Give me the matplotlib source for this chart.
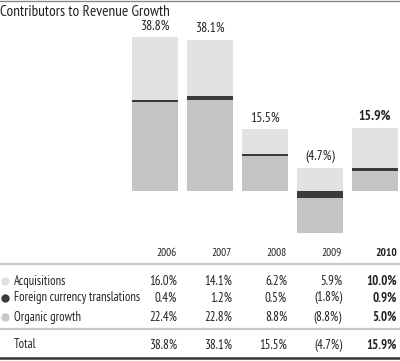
import matplotlib
matplotlib.use("Agg")
import matplotlib.pyplot as plt
from matplotlib.transforms import blended_transform_factory
import numpy as np

# data
years = ["2006", "2007", "2008", "2009", "2010"]
acquisitions = [16.0, 14.1, 6.2, 5.9, 10.0]
fx = [0.4, 1.2, 0.5, -1.8, 0.9]
organic = [22.4, 22.8, 8.8, -8.8, 5.0]
totals = [38.8, 38.1, 15.5, -4.7, 15.9]

row_names = ["Acquisitions", "Foreign currency translations", "Organic growth"]

C_ACQ = "#e2e2e2"
C_FX = "#3a3a3a"
C_ORG = "#c4c4c4"

plt.rcParams["font.family"] = ["PT Sans Narrow", "Roboto Condensed", "DejaVu Sans"]
TITLE_SIZE = 11
TEXT_SIZE = 9
TXT_COL = "#222222"


def fmt(v):
    return f"({abs(v):.1f}%)" if v < 0 else f"{v:.1f}%"


W, H = 400, 361
fig = plt.figure(figsize=(W / 100, H / 100), dpi=100)

# bar axes: pixel rows 20..240 from top
ax = fig.add_axes([0, (H - 240) / H, 1, 220 / H])
ax.set_xlim(-155 / 55, (W - 155) / 55)
ax.set_ylim(-49 / 3.97, 171 / 3.97)
ax.axis("off")

x = np.arange(len(years))
series = {"org": (organic, C_ORG), "fx": (fx, C_FX), "acq": (acquisitions, C_ACQ)}
pos_order = ["org", "fx", "acq"]
neg_order = ["fx", "org", "acq"]  # negatives: fx sits next to zero
pos_base = np.zeros(len(years))
neg_base = np.zeros(len(years))
bottoms = {k: np.zeros(len(years)) for k in series}
for k in pos_order:
    vals = np.array(series[k][0])
    m = vals >= 0
    bottoms[k][m] = pos_base[m]
    pos_base[m] += vals[m]
for k in neg_order:
    vals = np.array(series[k][0])
    m = vals < 0
    bottoms[k][m] = neg_base[m]
    neg_base[m] += vals[m]
for k in pos_order:
    vals, c = series[k]
    ax.bar(x, vals, bottom=bottoms[k], width=46 / 55, color=c, linewidth=0)

for i, t in enumerate(totals):
    ax.annotate(fmt(t), (x[i], pos_base[i]), xytext=(0, 8), textcoords="offset points",
                ha="center", va="center", fontsize=TEXT_SIZE + 0.8,
                fontweight="bold" if i == len(years) - 1 else "normal", color=TXT_COL)

# overlay for title / table in pixel coords
ov = fig.add_axes([0, 0, 1, 1])
ov.set_xlim(0, W)
ov.set_ylim(H, 0)
ov.axis("off")

ov.text(0, 12, "Contributors to Revenue Growth", fontsize=TITLE_SIZE, va="center", ha="left", color=TXT_COL)
ov.plot([0, W], [0.5, 0.5], color="#888888", lw=1)
ov.plot([0, W], [264, 264], color="#c8c8c8", lw=1.6)
ov.plot([0, W], [329, 329], color="#c8c8c8", lw=1.6)
ov.plot([0, W], [358, 358], color="#333333", lw=1.8)

tr = blended_transform_factory(ax.transData, ov.transData)
col_x = x + 0.40
row_y = [281, 298, 317]
rows = [acquisitions, fx, organic]
for i, yr in enumerate(years):
    bold = "bold" if i == len(years) - 1 else "normal"
    ov.text(col_x[i], 253, yr, transform=tr, ha="right", va="center", fontsize=TEXT_SIZE - 0.8,
            fontweight=bold, color=TXT_COL)
    for r, vals in enumerate(rows):
        ov.text(col_x[i], row_y[r], fmt(vals[i]), transform=tr, ha="right", va="center",
                fontsize=TEXT_SIZE + 0.3, fontweight=bold, color=TXT_COL)
    ov.text(col_x[i], 345, fmt(totals[i]), transform=tr, ha="right", va="center",
            fontsize=TEXT_SIZE + 0.3, fontweight=bold, color=TXT_COL)

marker_cols = ["#e0e0e0", "#3a3a3a", "#c8c8c8"]
for r, name in enumerate(row_names):
    ov.plot([5], [row_y[r]], marker="o", ms=6, color=marker_cols[r], mew=0)
    ov.text(14, row_y[r], name, ha="left", va="center", fontsize=TEXT_SIZE, color=TXT_COL)
ov.text(14, 345, "Total", ha="left", va="center", fontsize=TEXT_SIZE, color=TXT_COL)

fig.savefig("out.png", dpi=100)
